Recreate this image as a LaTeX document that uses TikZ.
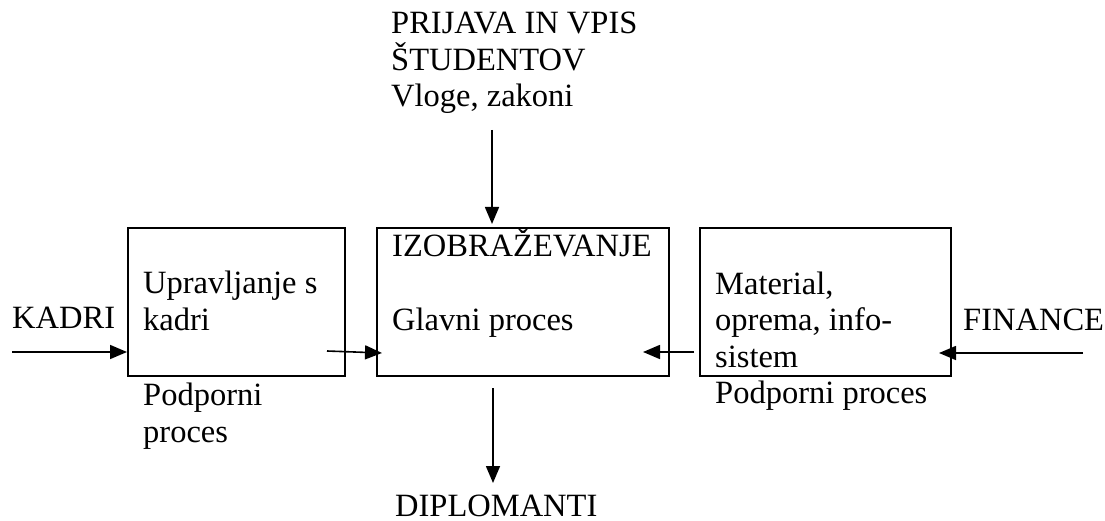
\documentclass[tikz,border=0pt]{standalone}
\usepackage{fontspec}
\setmainfont{Liberation Serif}
\usetikzlibrary{arrows.meta}
\tikzset{
  procbox/.style={draw,line width=1.8pt,minimum width=#1,minimum height=148pt,inner sep=0pt,anchor=north west},
  lbl/.style={anchor=base west,inner sep=0pt,align=left},
  flow/.style={-{Triangle[length=17pt,width=14pt]},line width=1.6pt},
}
\begin{document}
\begin{tikzpicture}[x=1pt,y=-1pt,font=\fontsize{32.5}{36.5}\selectfont]
  \useasboundingbox (0,0) rectangle (1105,521);
  % the three process boxes
  \node[procbox=217pt] (upr) at (127,227) {};
  \node[procbox=292pt] (izo) at (376,227) {};
  \node[procbox=251pt] (mat) at (699,227) {};
  % texts in the boxes (base = last line)
  \node[lbl] (uprtxt) at (143,330) {Upravljanje s\\kadri};
  \node[lbl] (izotxt) at (392,257) {IZOBRAŽEVANJE};
  \node[lbl] (glavni) at (392,330) {Glavni proces};
  \node[lbl] (mattxt) at (715,367) {Material,\\oprema, info-\\sistem};
  % texts outside
  \node[lbl] (prijava) at (391,107) {PRIJAVA IN VPIS\\ŠTUDENTOV\\Vloge, zakoni};
  \node[lbl] (kadri) at (12,328) {KADRI};
  \node[lbl] (finance) at (963,330) {FINANCE};
  \node[lbl] (podp1) at (143,442) {Podporni\\proces};
  \node[lbl] (podp2) at (715,403) {Podporni proces};
  \node[lbl] (dipl) at (395,516) {DIPLOMANTI};
  % end points of the arrows
  \coordinate (kin) at (12,352);
  \coordinate (uout) at (327,351);
  \coordinate (izl) at (382,353);
  \coordinate (mout) at (694,352);
  \coordinate (izr) at (643,352);
  \coordinate (fin) at (1083,353);
  \coordinate (matr) at (939,353);
  \coordinate (topin) at (492,130);
  \coordinate (botout) at (493,388);
  \coordinate (botend) at (493,483);
  % arrows
  \draw[flow] (kin) -- (kin -| upr.west);
  \draw[flow] (uout) -- (izl);
  \draw[flow] (mout) -- (izr);
  \draw[flow] (fin) -- (matr);
  \draw[flow] (topin) -- ([yshift=3pt]topin |- izo.north);
  \draw[flow] (botout) -- (botend);
\end{tikzpicture}
\end{document}
